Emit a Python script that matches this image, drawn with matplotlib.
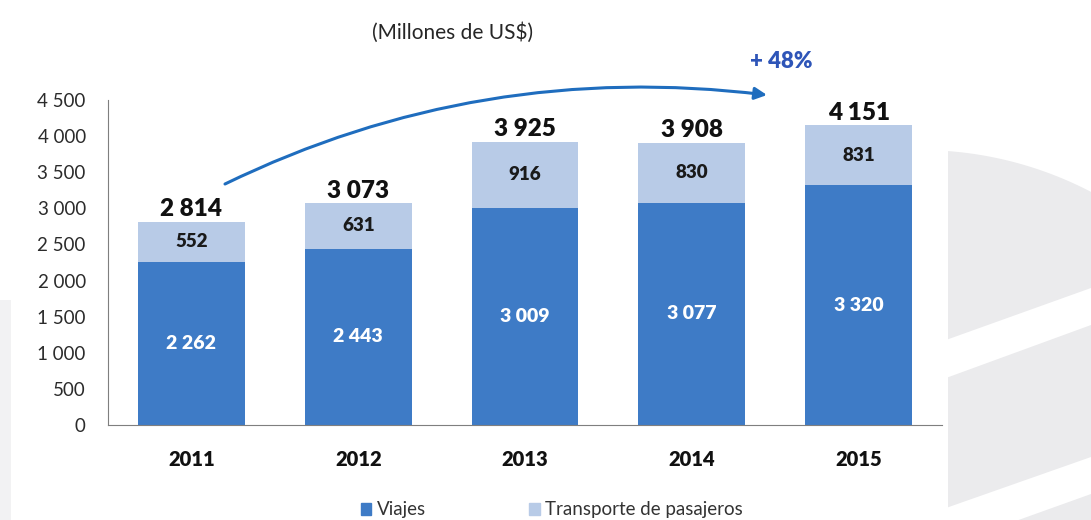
import numpy as np
import matplotlib.pyplot as plt
from matplotlib.patches import Polygon, Rectangle, FancyArrowPatch, Patch
from matplotlib.path import Path
from matplotlib.ticker import FuncFormatter

plt.rcParams['font.family'] = ['Lato', 'DejaVu Sans']

years = ['2011', '2012', '2013', '2014', '2015']
viajes = [2262, 2443, 3009, 3077, 3320]
transporte = [552, 631, 916, 830, 831]
totales = [2814, 3073, 3925, 3908, 4151]

c_viajes = '#3E7BC6'
c_transp = '#B8CBE7'


def fmt(v):
    return f'{int(v):,}'.replace(',', ' ')


fig = plt.figure(figsize=(10.91, 5.2), dpi=100)

# decorative background in pixel coordinates
bg = fig.add_axes([0, 0, 1, 1], zorder=-1)
bg.set_xlim(0, 1091)
bg.set_ylim(520, 0)
bg.axis('off')

theta = np.linspace(np.arcsin((948 - 920) / 370), np.arcsin((1091 - 920) / 370), 60)
arc = np.column_stack([920 + 370 * np.sin(theta), 520 - 370 * np.cos(theta)])
grey = np.vstack([arc, [[1091, 520], [948, 520]]])
bg.add_patch(Polygon(grey, closed=True, fc='#EBEBED', ec='none'))
bg.add_patch(Polygon([[946, 340], [1091, 288], [1091, 325], [946, 378]],
                     fc='white', ec='none'))
bg.add_patch(Polygon([[946, 508], [1091, 457], [1091, 494], [946, 546]],
                     fc='white', ec='none'))
bg.add_patch(Rectangle((0, 300), 11, 220, fc='#F2F2F3', ec='none'))

# growth arrow
verts = [(225, 184), (480, 60), (767, 95)]
arrow_path = Path(verts, [Path.MOVETO, Path.CURVE3, Path.CURVE3])
bg.add_patch(FancyArrowPatch(path=arrow_path, arrowstyle='-|>', mutation_scale=18,
                             color='#1F6DBE', lw=2.2))
bg.text(781, 62, '+ 48%', color='#2E55B8', fontsize=16, fontweight='heavy',
        ha='center', va='center')
bg.text(453, 33, '(Millones de US$)', color='#262626', fontsize=15,
        ha='center', va='center')

ax = fig.add_axes([108 / 1091, 95 / 520, 834 / 1091, 325 / 520])
ax.patch.set_alpha(0)

x = np.arange(len(years))
w = 0.64
ax.bar(x, viajes, w, color=c_viajes, label='Viajes')
ax.bar(x, transporte, w, bottom=viajes, color=c_transp, label='Transporte de pasajeros')

for i in range(len(years)):
    ax.text(x[i], viajes[i] / 2, fmt(viajes[i]), color='white', fontsize=14,
            fontweight='heavy', ha='center', va='center')
    ax.text(x[i], viajes[i] + transporte[i] / 2, fmt(transporte[i]), color='#1A1A1A',
            fontsize=13.5, fontweight='heavy', ha='center', va='center')
    ax.annotate(fmt(totales[i]), (x[i], viajes[i] + transporte[i]), xytext=(0, 1),
                textcoords='offset points', ha='center', va='bottom',
                fontsize=17.5, fontweight='heavy', color='#111111')

ax.set_xlim(-0.5, 4.5)
ax.set_ylim(0, 4500)
ax.set_yticks(np.arange(0, 4501, 500))
ax.yaxis.set_major_formatter(FuncFormatter(lambda v, p: fmt(v)))
ax.set_xticks(x)
ax.set_xticklabels(years, fontsize=14.5, fontweight='heavy', color='#111111')
ax.tick_params(axis='y', length=0, pad=16, labelsize=13.5, labelcolor='#2B2B2B')
ax.tick_params(axis='x', length=0, pad=18)
for s in ['top', 'right']:
    ax.spines[s].set_visible(False)
ax.spines['left'].set_color('#7F7F7F')
ax.spines['bottom'].set_color('#7F7F7F')

handles = [Patch(color=c_viajes), Patch(color=c_transp)]
fig.legend(handles, ['Viajes', 'Transporte de pasajeros'], loc='center',
           bbox_to_anchor=(552 / 1091, 1 - 510 / 520), ncol=2, frameon=False,
           fontsize=13.5, handlelength=0.55, handleheight=0.55, handletextpad=0.3,
           columnspacing=5.5, labelcolor='#333333')

fig.savefig('out.png', dpi=100)
